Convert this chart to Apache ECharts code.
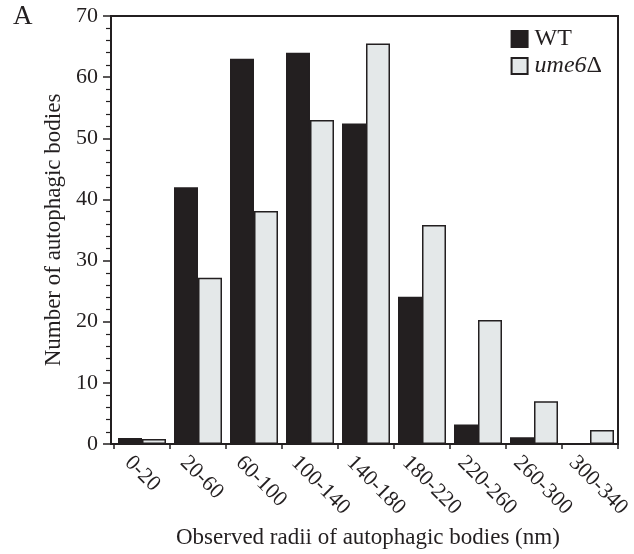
<!DOCTYPE html>
<html>
<head>
<meta charset="utf-8">
<script src="https://cdn.jsdelivr.net/npm/echarts@6/dist/echarts.min.js"></script>
<style>
  html, body { margin: 0; padding: 0; background: #fff; }
  #chart { width: 634px; height: 554px; }
</style>
</head>
<body>
<div id="chart"></div>
<script>
// radius bins (nm)
var categories = ['0-20', '20-60', '60-100', '100-140', '140-180', '180-220', '220-260', '260-300', '300-340'];
var wtCounts = [1, 42, 63, 64, 52.4, 24.1, 3.2, 1.1, 0];
var ume6Counts = [0.8, 27.2, 38.1, 53, 65.5, 35.8, 20.3, 7, 2.3];
var yTicks = [0, 10, 20, 30, 40, 50, 60, 70];

var serif = '"Liberation Serif", "DejaVu Serif", serif';
var ink = '#231f20';

var chart = echarts.init(document.getElementById('chart'));

var option = {
  animation: false,
  textStyle: { fontFamily: serif, color: ink },
  title: {
    text: 'A', left: 13, top: 3, padding: 0,
    textStyle: { fontFamily: serif, fontSize: 27, fontWeight: 'normal', color: ink }
  },
  grid: [
    // frame + y axis
    { left: 111, right: 16, top: 16, bottom: 110, show: true, borderColor: ink, borderWidth: 2 },
    // bars
    { left: 114, right: 16, top: 16, bottom: 110 },
    // bin labels, anchored near the left edge of each bin
    { left: 128, right: 2, top: 16, bottom: 110 }
  ],
  legend: {
    right: 27, top: 22, orient: 'vertical', itemWidth: 16, itemHeight: 16, itemGap: 3,
    icon: 'rect',
    textStyle: {
      fontFamily: serif, fontSize: 24, color: ink, padding: [0, 0, 0, 2],
      rich: { i: { fontFamily: serif, fontSize: 24, fontStyle: 'italic', color: ink } }
    },
    formatter: function (name) {
      return name === 'ume6Δ' ? '{i|ume6}Δ' : name;
    }
  },
  xAxis: [{
    gridIndex: 0, type: 'category', data: categories,
    axisLine: { lineStyle: { color: ink, width: 2 } },
    axisTick: { show: false },
    axisLabel: { show: false }
  }, {
    gridIndex: 1, type: 'category', data: categories, boundaryGap: true,
    axisLine: { show: false },
    axisTick: { show: true, length: 5, lineStyle: { color: ink, width: 1.5 } },
    axisLabel: { show: false }
  }, {
    gridIndex: 2, type: 'category', data: categories.concat(['']), boundaryGap: false,
    axisLine: { show: false },
    axisTick: { show: false },
    axisLabel: { rotate: -45, margin: 16, fontFamily: serif, fontSize: 22, color: ink, interval: 0 },
    name: 'Observed radii of autophagic bodies (nm)',
    nameLocation: 'middle', nameGap: 80,
    nameTextStyle: { fontFamily: serif, fontSize: 23, color: ink, padding: [0, 20, 0, 0] }
  }],
  yAxis: [{
    gridIndex: 0, type: 'value', min: 0, max: 70, interval: 10,
    name: 'Number of autophagic bodies',
    nameLocation: 'middle', nameGap: 46, nameRotate: 90,
    nameTextStyle: { fontFamily: serif, fontSize: 23, color: ink },
    axisLine: { show: true, lineStyle: { color: ink, width: 2 } },
    axisTick: { show: true, length: 8, lineStyle: { color: ink, width: 1.5 } },
    minorTick: { show: true, splitNumber: 5, length: 5, lineStyle: { color: ink, width: 1.2 } },
    splitLine: { show: false },
    axisLabel: {
      fontFamily: serif, fontSize: 22, color: ink, margin: 13,
      formatter: function (v) { return yTicks.indexOf(v) >= 0 ? String(v) : ''; }
    }
  }, {
    gridIndex: 1, type: 'value', min: 0, max: 70, interval: 10, show: false
  }, {
    gridIndex: 2, type: 'value', min: 0, max: 70, interval: 10, show: false
  }],
  series: [{
    name: 'WT', type: 'bar', xAxisIndex: 1, yAxisIndex: 1, data: wtCounts,
    barWidth: 24, barGap: '0%',
    itemStyle: { color: ink, borderColor: ink, borderWidth: 1.5 }
  }, {
    name: 'ume6Δ', type: 'bar', xAxisIndex: 1, yAxisIndex: 1, data: ume6Counts,
    barWidth: 24, barGap: '0%',
    itemStyle: { color: '#e4e8e9', borderColor: ink, borderWidth: 1.5 }
  }]
};

chart.setOption(option);
</script>
</body>
</html>
